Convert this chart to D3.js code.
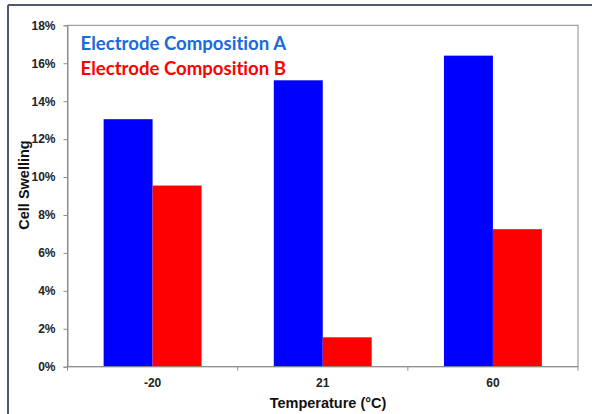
<!DOCTYPE html>
<html>
    <head>
        <title>Cell Swelling</title>
        <style>
            body { margin: 0; background: #fff; }
            svg { display: block; }
        </style>
    </head>
    <body>
        <svg></svg>
        <script src="https://d3js.org/d3.v7.min.js"></script>
        <script>
            // chart data
            var temps = ["-20", "21", "60"];
            var seriesNames = ["Electrode Composition A", "Electrode Composition B"];
            var compA = [13.05, 15.1, 16.4];
            var compB = [9.55, 1.55, 7.25];
            var yTicks = [0, 2, 4, 6, 8, 10, 12, 14, 16, 18];
            var barColors = ["#0000ff", "#ff0000"];
            var legendColors = ["#1a6ad8", "#ff0000"];

            var W = 592, H = 414;
            var svg = d3.select("svg").attr("width", W).attr("height", H);

            // outer frame (only top and left edges are visible)
            svg.append("line").attr("x1", 8).attr("x2", W).attr("y1", 5).attr("y2", 5)
                .attr("stroke", "#4d5b70").attr("stroke-width", 2);
            svg.append("line").attr("x1", 8).attr("x2", 8).attr("y1", 5).attr("y2", H)
                .attr("stroke", "#4d5b70").attr("stroke-width", 2);

            var pLeft = 67.5, pRight = 578, pTop = 25.3, pBottom = 366.7;

            var x0 = d3.scaleBand().domain(temps).range([pLeft, pRight]).padding(0);
            var x1 = d3.scaleBand().domain(seriesNames).range([0, x0.bandwidth()])
                .paddingInner(0).paddingOuter(0.738);
            var y = d3.scaleLinear().domain([0, 18]).range([pBottom, pTop]);

            // plot area frame
            svg.append("rect").attr("x", pLeft).attr("y", pTop)
                .attr("width", pRight - pLeft).attr("height", pBottom - pTop)
                .attr("fill", "none").attr("stroke", "#8c8c8c").attr("stroke-width", 1);

            // bars
            var rows = temps.map(function(t, i) {
                return {temp: t, vals: [compA[i], compB[i]]};
            });
            var groups = svg.selectAll("g.grp").data(rows).enter().append("g")
                .attr("class", "grp")
                .attr("transform", function(d) { return "translate(" + x0(d.temp) + ",0)"; });
            groups.selectAll("rect").data(function(d) {
                    return d.vals.map(function(v, j) { return {name: seriesNames[j], v: v, j: j}; });
                }).enter().append("rect")
                .attr("x", function(d) { return x1(d.name); })
                .attr("y", function(d) { return y(d.v); })
                .attr("width", x1.bandwidth())
                .attr("height", function(d) { return pBottom - y(d.v); })
                .attr("fill", function(d) { return barColors[d.j]; });

            // y axis
            var yAxis = svg.append("g").attr("transform", "translate(" + pLeft + ",0)")
                .call(d3.axisLeft(y).tickValues(yTicks).tickSize(4).tickPadding(8)
                    .tickFormat(function(d) { return d + "%"; }));
            yAxis.select(".domain").attr("stroke", "#8c8c8c");
            yAxis.selectAll(".tick line").attr("stroke", "#8c8c8c");
            yAxis.selectAll("text").attr("font-family", "Liberation Sans, Arial, sans-serif")
                .attr("font-weight", "bold").attr("font-size", 12).attr("fill", "#222");

            // x axis: ticks at category boundaries
            var xAxis = svg.append("g").attr("transform", "translate(0," + pBottom + ")");
            xAxis.append("line").attr("x1", pLeft).attr("x2", pRight)
                .attr("stroke", "#8c8c8c");
            var bounds = temps.map(function(t) { return x0(t); }).concat([pRight]);
            xAxis.selectAll("line.tk").data(bounds).enter().append("line")
                .attr("class", "tk")
                .attr("x1", function(d) { return d; }).attr("x2", function(d) { return d; })
                .attr("y1", 0).attr("y2", 4).attr("stroke", "#8c8c8c");
            xAxis.selectAll("text").data(temps).enter().append("text")
                .attr("x", function(d) { return x0(d) + x0.bandwidth() / 2; })
                .attr("y", 20)
                .attr("text-anchor", "middle")
                .attr("font-family", "Liberation Sans, Arial, sans-serif")
                .attr("font-weight", "bold").attr("font-size", 12).attr("fill", "#222")
                .text(function(d) { return d; });

            // axis titles
            svg.append("text").attr("x", 328).attr("y", 408)
                .attr("text-anchor", "middle")
                .attr("font-family", "Liberation Sans, Arial, sans-serif")
                .attr("font-weight", "bold").attr("font-size", 14.5).attr("fill", "#111")
                .text("Temperature (°C)");
            svg.append("text")
                .attr("transform", "translate(28.5,185) rotate(-90)")
                .attr("text-anchor", "middle")
                .attr("font-family", "Liberation Sans, Arial, sans-serif")
                .attr("font-weight", "bold").attr("font-size", 14.5).attr("fill", "#111")
                .text("Cell Swelling");

            // legend
            svg.selectAll("text.leg").data(seriesNames).enter().append("text")
                .attr("class", "leg")
                .attr("x", 80.5)
                .attr("y", function(d, i) { return 50 + i * 25; })
                .attr("font-family", "Lato, sans-serif")
                .attr("font-weight", "bold").attr("font-size", 18.6)
                .style("font-variant-ligatures", "none")
                .attr("fill", function(d, i) { return legendColors[i]; })
                .text(function(d) { return d; });
        </script>
    </body>
</html>
